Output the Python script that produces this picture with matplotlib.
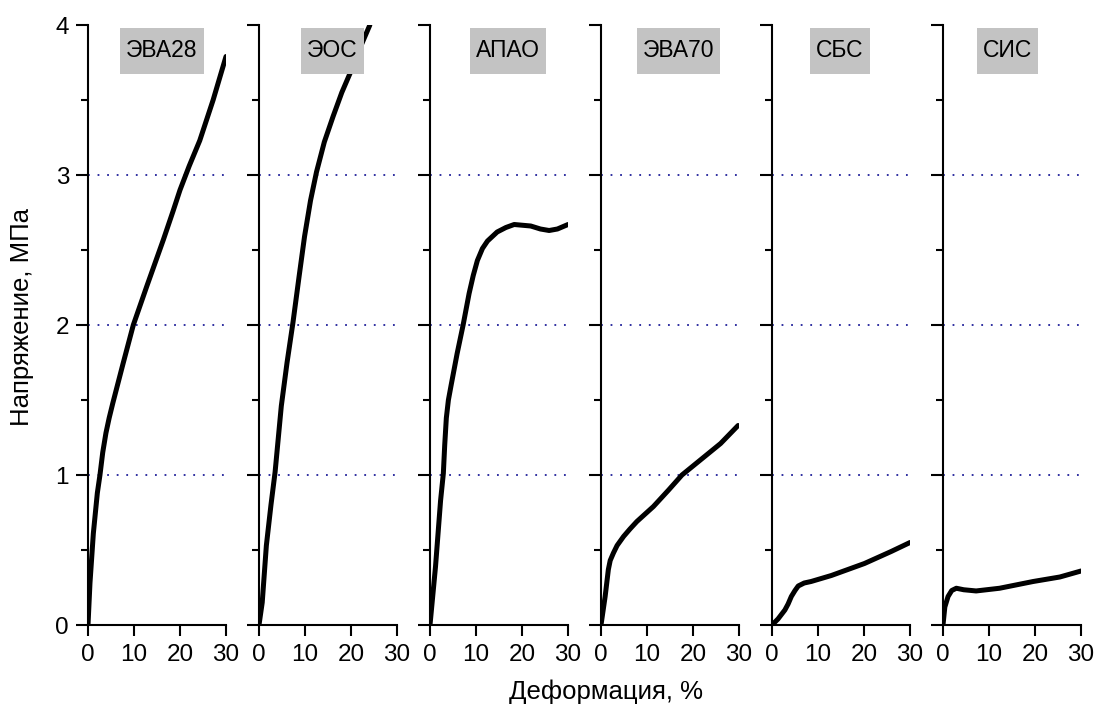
import matplotlib
matplotlib.use("Agg")
import matplotlib.pyplot as plt
from matplotlib.patches import Rectangle

plt.rcParams['font.family'] = ['Liberation Sans', 'DejaVu Sans']

# ---- data (strain %, stress MPa) ----
names = ["ЭВА28", "ЭОС", "АПАО", "ЭВА70", "СБС", "СИС"]

eva28_x = [0, 0.43, 1.16, 2.03, 2.6, 3.2, 3.9, 4.6, 5.4, 6.5, 7.6, 9.85, 12.8, 16.4, 18.5, 20.0, 22.0, 24.3, 27.2, 30]
eva28_y = [0, 0.28, 0.61, 0.88, 1.0, 1.15, 1.28, 1.38, 1.48, 1.61, 1.74, 2.0, 2.26, 2.57, 2.76, 2.9, 3.06, 3.23, 3.5, 3.79]

eos_x = [0, 0.7, 1.6, 2.6, 3.5, 4.85, 6.1, 7.4, 8.7, 9.9, 11.2, 12.5, 14.2, 16.1, 18.0, 20.1, 22.0, 24.1]
eos_y = [0, 0.15, 0.53, 0.8, 1.02, 1.46, 1.75, 2.02, 2.32, 2.59, 2.83, 3.02, 3.22, 3.39, 3.55, 3.70, 3.85, 4.0]

apao_x = [0, 1.2, 2.3, 2.9, 3.2, 3.55, 4.0, 4.6, 5.9, 7.2, 8.5, 9.4, 10.3, 11.4, 12.5, 14.6, 16.5, 18.3, 21.9, 24.0, 25.9, 27.7, 30]
apao_y = [0, 0.39, 0.83, 1.01, 1.2, 1.38, 1.5, 1.6, 1.81, 2.0, 2.21, 2.33, 2.43, 2.51, 2.56, 2.62, 2.65, 2.67, 2.66, 2.64, 2.63, 2.64, 2.67]

eva70_x = [0, 0.9, 1.6, 2.0, 2.7, 3.5, 4.9, 6.3, 7.8, 11.4, 14.7, 17.6, 21.6, 26, 29.8]
eva70_y = [0, 0.19, 0.37, 0.43, 0.48, 0.53, 0.59, 0.64, 0.69, 0.79, 0.90, 1.0, 1.1, 1.21, 1.33]

sbs_x = [0, 1.3, 2.8, 3.5, 4.2, 5.0, 5.7, 7.0, 8.5, 12.9, 20.1, 25.9, 30]
sbs_y = [0, 0.04, 0.10, 0.14, 0.19, 0.23, 0.26, 0.28, 0.29, 0.33, 0.41, 0.49, 0.55]

sis_x = [0, 0.4, 1.1, 1.9, 2.9, 4.5, 7.2, 12.3, 19.6, 25.4, 30]
sis_y = [0, 0.12, 0.19, 0.23, 0.245, 0.235, 0.227, 0.245, 0.29, 0.32, 0.36]

series_x = [eva28_x, eos_x, apao_x, eva70_x, sbs_x, sis_x]
series_y = [eva28_y, eos_y, apao_y, eva70_y, sbs_y, sis_y]
label_x = [16.1, 16.0, 17.0, 16.8, 14.8, 14.1]

x_ticks = [0, 10, 20, 30]
y_ticks = [0, 1, 2, 3, 4]
grid_levels = [1, 2, 3]

W, H = 1097, 713
fig = plt.figure(figsize=(W / 100, H / 100), dpi=100)

axes = []
for i in range(6):
    left = (88 + 171 * i) / W
    ax = fig.add_axes([left, (H - 625) / H, 138 / W, 600 / H])
    ax.set_facecolor('none')
    ax.plot(series_x[i], series_y[i], color='black', lw=3.6,
            solid_capstyle='round', solid_joinstyle='round', zorder=3)
    for g in grid_levels:
        ax.plot([0, 30], [g, g], color='#20209a', lw=1.3,
                linestyle=(0, (1, 4.3)), zorder=1)
    ax.set_xlim(0, 30)
    ax.set_ylim(0, 4)
    for s in ['top', 'right']:
        ax.spines[s].set_visible(False)
    for s in ['left', 'bottom']:
        ax.spines[s].set_linewidth(1.5)
    ax.set_xticks(x_ticks)
    ax.set_yticks(y_ticks)
    ax.set_yticks([0.5, 1.5, 2.5, 3.5], minor=True)
    ax.tick_params(axis='y', which='major', direction='out', length=8.6, width=1.5,
                   labelsize=17.5, pad=5)
    ax.tick_params(axis='y', which='minor', direction='out', length=5, width=1.5)
    ax.tick_params(axis='x', which='major', direction='out', length=8, width=1.5,
                   labelsize=17.5, pad=6)
    if i > 0:
        ax.tick_params(axis='y', labelleft=False)
    t = ax.text(label_x[i], 3.83, names[i], ha='center', va='center',
                fontsize=16.5, zorder=5)
    axes.append((ax, t))

fig.text(22 / W, 1 - 317 / H, "Напряжение, МПа", rotation=90,
         ha='center', va='center', fontsize=18.5)
fig.text(606 / W, 1 - 692 / H, "Деформация, %", ha='center', va='center',
         fontsize=18.5)

fig.canvas.draw()
r = fig.canvas.get_renderer()
for ax, t in axes:
    bb = t.get_window_extent(r)
    cx = (bb.x0 + bb.x1) / 2
    cy = (bb.y0 + bb.y1) / 2
    w = bb.width + 12
    h = 46
    inv = ax.transAxes.inverted()
    (ax0, ay0) = inv.transform((cx - w / 2, cy - h / 2))
    (ax1, ay1) = inv.transform((cx + w / 2, cy + h / 2))
    ax.add_patch(Rectangle((ax0, ay0), ax1 - ax0, ay1 - ay0, transform=ax.transAxes,
                           facecolor='#c3c3c3', edgecolor='none', zorder=4,
                           clip_on=False))

fig.savefig("out.png", dpi=100)
